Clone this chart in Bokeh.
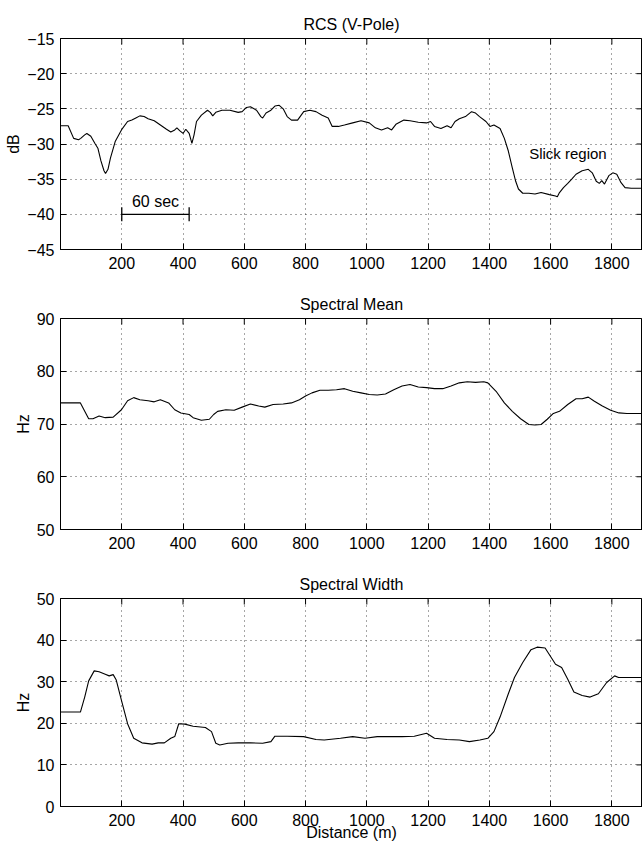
import math
from bokeh.plotting import figure
from bokeh.layouts import column
from bokeh.models import FixedTicker, Range1d
from bokeh.embed import file_html
from bokeh.resources import INLINE
from bokeh.core.properties import value

# ---------------- data ----------------
rcs_dist = [0, 25, 43, 59, 66, 79, 86, 99, 112, 122, 132, 142, 147, 155, 163, 179, 199, 219, 233, 246,
            259, 273, 286, 306, 326, 346, 360, 373, 380, 389, 400, 409, 420, 429, 436, 444, 460, 480, 489,
            497, 507, 527, 553, 580, 593, 607, 620, 640, 654, 660, 671, 687, 700, 714, 727, 740, 754, 774,
            794, 814, 834, 854, 874, 887, 907, 927, 954, 981, 1008, 1028, 1048, 1068, 1081, 1095, 1121,
            1141, 1168, 1195, 1208, 1221, 1242, 1262, 1275, 1288, 1302, 1322, 1342, 1355, 1368, 1389,
            1402, 1415, 1435, 1449, 1462, 1475, 1486, 1495, 1509, 1529, 1549, 1569, 1596, 1616, 1622,
            1629, 1642, 1656, 1669, 1683, 1703, 1723, 1736, 1749, 1759, 1767, 1776, 1790, 1803, 1816,
            1830, 1843, 1863, 1900]
rcs_db = [-27.4, -27.4, -29.2, -29.4, -29.2, -28.7, -28.5, -28.9, -29.9, -30.6, -32.4, -33.8, -34.2,
          -33.6, -32.0, -29.6, -28.0, -26.8, -26.6, -26.3, -26.0, -26.1, -26.4, -26.7, -27.3, -27.9,
          -28.3, -28.0, -27.7, -28.1, -28.5, -27.9, -28.5, -29.9, -28.7, -26.8, -25.9, -25.2, -25.5,
          -26.0, -25.5, -25.2, -25.2, -25.5, -25.4, -24.8, -24.7, -25.2, -26.1, -26.3, -25.6, -25.2,
          -24.6, -24.5, -25.0, -26.1, -26.6, -26.6, -25.4, -25.2, -25.4, -25.9, -26.3, -27.5, -27.5,
          -27.3, -27.0, -26.7, -27.0, -27.7, -28.0, -27.7, -28.0, -27.2, -26.6, -26.7, -26.9, -27.0,
          -26.8, -27.5, -27.8, -27.4, -27.7, -26.8, -26.4, -26.1, -25.4, -25.6, -26.1, -26.8, -27.5,
          -27.3, -27.8, -29.2, -31.0, -33.4, -35.3, -36.4, -37.0, -37.0, -37.1, -36.9, -37.2, -37.4,
          -37.5, -36.9, -36.2, -35.6, -35.0, -34.3, -33.8, -33.6, -34.1, -35.3, -35.6, -35.2, -35.7,
          -34.5, -34.1, -34.3, -35.5, -36.2, -36.3, -36.3]

mean_dist = [0, 65, 92, 106, 126, 146, 172, 199, 219, 239, 259, 286, 306, 326, 353, 373, 393, 420, 433,
             460, 486, 500, 513, 540, 567, 593, 620, 647, 667, 694, 727, 754, 780, 800, 821, 847, 874,
             901, 927, 954, 981, 1008, 1034, 1061, 1088, 1115, 1141, 1168, 1195, 1221, 1248, 1275, 1302,
             1328, 1355, 1382, 1395, 1422, 1449, 1475, 1502, 1529, 1549, 1569, 1589, 1609, 1629, 1656,
             1683, 1703, 1723, 1743, 1769, 1796, 1823, 1849, 1900]
mean_hz = [74.0, 74.0, 71.0, 71.0, 71.5, 71.2, 71.3, 72.7, 74.4, 75.0, 74.6, 74.4, 74.2, 74.6, 74.0,
           72.7, 72.1, 71.8, 71.2, 70.7, 70.9, 71.8, 72.4, 72.7, 72.6, 73.2, 73.8, 73.4, 73.2, 73.7,
           73.8, 74.0, 74.6, 75.3, 75.9, 76.4, 76.4, 76.5, 76.7, 76.2, 75.9, 75.6, 75.5, 75.7, 76.5,
           77.2, 77.5, 77.0, 76.9, 76.7, 76.7, 77.2, 77.8, 78.0, 77.9, 78.0, 77.8, 76.2, 74.0, 72.4,
           71.0, 69.9, 69.8, 69.9, 70.9, 72.0, 72.4, 73.7, 74.8, 74.8, 75.1, 74.3, 73.4, 72.6, 72.1,
           72.0, 72.0]

width_dist = [0, 65, 79, 92, 110, 126, 146, 159, 172, 182, 199, 219, 239, 266, 299, 319, 339, 360, 373,
              386, 406, 433, 473, 493, 507, 520, 547, 580, 620, 660, 687, 700, 740, 794, 834, 861, 914,
              954, 994, 1034, 1074, 1115, 1155, 1195, 1221, 1262, 1302, 1335, 1369, 1395, 1415, 1435,
              1462, 1482, 1509, 1536, 1556, 1582, 1602, 1616, 1636, 1656, 1676, 1703, 1729, 1756, 1783,
              1809, 1822, 1849, 1900]
width_hz = [22.7, 22.7, 26.3, 30.2, 32.6, 32.4, 31.8, 31.4, 31.7, 30.4, 25.5, 19.9, 16.4, 15.3, 15.0,
            15.3, 15.3, 16.4, 16.8, 19.9, 19.8, 19.3, 19.0, 18.0, 15.2, 14.8, 15.2, 15.3, 15.3, 15.2,
            15.6, 16.9, 16.9, 16.8, 16.1, 16.0, 16.4, 16.8, 16.4, 16.8, 16.8, 16.8, 16.9, 17.6, 16.4,
            16.1, 16.0, 15.6, 16.0, 16.4, 18.0, 21.5, 27.1, 31.0, 34.6, 37.7, 38.3, 38.1, 35.8, 34.2,
            33.4, 30.6, 27.5, 26.7, 26.3, 27.1, 29.8, 31.4, 31.0, 31.0, 31.0]

x_range_max = 1900
x_ticks = [200, 400, 600, 800, 1000, 1200, 1400, 1600, 1800]
rcs_ticks = [-45, -40, -35, -30, -25, -20, -15]
mean_ticks = [50, 60, 70, 80, 90]
width_ticks = [0, 10, 20, 30, 40, 50]

titles = ["RCS (V-Pole)", "Spectral Mean", "Spectral Width"]
y_labels = ["dB", "Hz", "Hz"]
x_label = "Distance (m)"

slick_label = "Slick region"
slick_pos = (1530, -31.3)
bar_label = "60 sec"
bar_start, bar_end, bar_level = 200, 420, -40

FONT = "Liberation Sans"


def make_fig(title, ylab, yrange, yticks, xs, ys, height, top, bottom, show_xlabel=False):
    p = figure(width=642, height=height, output_backend="svg", toolbar_location=None,
               x_range=Range1d(0, x_range_max), y_range=Range1d(*yrange),
               min_border_left=60, min_border_right=0, min_border_top=top, min_border_bottom=bottom,
               title=title)
    p.title.text_font = FONT
    p.title.text_font_size = "16px"
    p.title.text_font_style = "normal"
    p.title.align = "center"
    p.title.text_color = "black"
    p.title.standoff = 12
    p.outline_line_color = "black"
    p.outline_line_width = 1
    p.background_fill_color = "white"
    p.border_fill_color = "white"

    for ax, ticks in ((p.xaxis[0], x_ticks), (p.yaxis[0], yticks)):
        ax.ticker = FixedTicker(ticks=ticks)
        ax.major_tick_in = 6
        ax.major_tick_out = 0
        ax.minor_tick_line_color = None
        ax.axis_line_color = "black"
        ax.major_tick_line_color = "black"
        ax.major_label_text_font = FONT
        ax.major_label_text_font_size = "16px"
        ax.major_label_text_color = "black"
        ax.axis_label_text_font = FONT
        ax.axis_label_text_font_size = "16px"
        ax.axis_label_text_font_style = "normal"
        ax.axis_label_text_color = "black"
    p.xaxis[0].major_label_standoff = 7
    p.yaxis[0].major_label_standoff = 6
    p.yaxis[0].axis_label = ylab
    p.yaxis[0].axis_label_standoff = 2
    if show_xlabel:
        p.xaxis[0].axis_label = x_label
        p.xaxis[0].axis_label_standoff = -5

    # mirrored inward ticks on the top and right frame edges
    ymin, ymax = yrange
    p.ray(x=x_ticks, y=[ymax] * len(x_ticks), length=6, angle=-math.pi / 2,
          length_units="screen", line_color="black", line_width=1)
    p.ray(x=[x_range_max] * len(yticks), y=yticks, length=6, angle=math.pi,
          length_units="screen", line_color="black", line_width=1)

    for g, ticks in ((p.xgrid[0], x_ticks), (p.ygrid[0], yticks)):
        g.ticker = FixedTicker(ticks=ticks)
        g.grid_line_color = "black"
        g.grid_line_alpha = 0.7
        g.grid_line_dash = "1 4"
        g.grid_line_width = 1

    p.line(xs, ys, line_color="black", line_width=1.1)
    return p


p1 = make_fig(titles[0], y_labels[0], (-45, -15), rcs_ticks, rcs_dist, rcs_db, 280, 38, 31)
p2 = make_fig(titles[1], y_labels[1], (50, 90), mean_ticks, mean_dist, mean_hz, 280, 38, 31)
p3 = make_fig(titles[2], y_labels[2], (0, 50), width_ticks, width_dist, width_hz, 284, 38, 38,
              show_xlabel=True)

# annotations on the RCS panel
p1.text(x=[slick_pos[0]], y=[slick_pos[1]], text=[slick_label], text_font=value(FONT),
        text_font_size="15px", text_align="left", text_baseline="middle", text_color="black")
p1.segment(x0=[bar_start], y0=[bar_level], x1=[bar_end], y1=[bar_level], line_color="black",
           line_width=1.3)
p1.segment(x0=[bar_start, bar_end], y0=[bar_level - 1, bar_level - 1],
           x1=[bar_start, bar_end], y1=[bar_level + 1, bar_level + 1], line_color="black",
           line_width=1.3)
p1.text(x=[(bar_start + bar_end) / 2], y=[bar_level + 1.8], text=[bar_label], text_font=value(FONT),
        text_font_size="16px", text_align="center", text_baseline="middle", text_color="black")

layout = column(p1, p2, p3, spacing=0)
open("out.html", "w").write(file_html(layout, INLINE))
